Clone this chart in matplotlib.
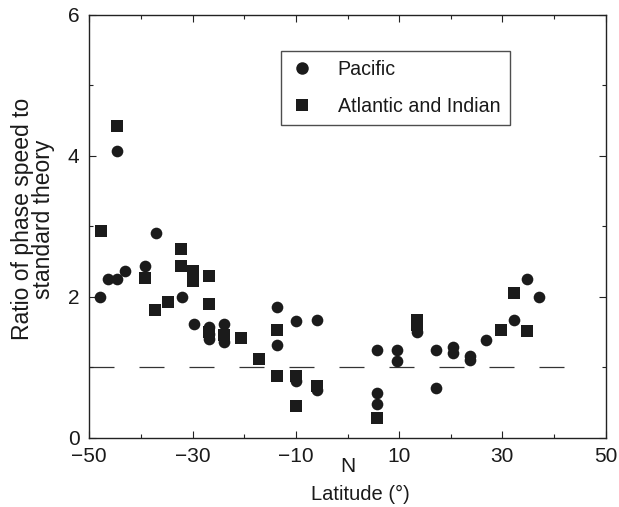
import matplotlib
matplotlib.use("Agg")
import matplotlib.pyplot as plt
from matplotlib.lines import Line2D
from matplotlib.ticker import FixedLocator
from matplotlib.transforms import blended_transform_factory

plt.rcParams["font.family"] = ["Liberation Sans", "DejaVu Sans"]
plt.rcParams["axes.unicode_minus"] = True
plt.rcParams["lines.scale_dashes"] = False

# Pacific observations: latitude (deg) and ratio of phase speed to standard theory
pacific_lat = [-47.9, -46.3, -44.7, -44.7, -43.0, -39.3, -37.1, -32.1, -29.7,
               -26.8, -26.8, -26.8, -23.9, -23.9, -13.65, -13.65, -9.9, -9.9,
               -6.0, -6.0, 5.65, 5.65, 5.65, 9.6, 9.6, 13.4, 17.1, 17.1,
               20.5, 20.5, 23.7, 23.7, 26.8, 32.2, 34.8, 37.1]
pacific_ratio = [1.99, 2.25, 2.25, 4.07, 2.37, 2.43, 2.91, 1.99, 1.61,
                 1.57, 1.47, 1.40, 1.61, 1.35, 1.85, 1.31, 1.66, 0.80,
                 1.67, 0.67, 1.24, 0.63, 0.48, 1.24, 1.09, 1.50, 1.24, 0.71,
                 1.28, 1.20, 1.16, 1.10, 1.38, 1.67, 2.25, 2.00]

# Atlantic and Indian observations
atl_lat = [-47.8, -44.7, -39.3, -37.3, -34.8, -32.2, -32.2, -29.9, -29.9,
           -26.9, -26.9, -26.8, -23.9, -20.6, -17.2, -13.65, -13.65, -9.9,
           -9.9, -6.0, 5.65, 13.4, 13.4, 29.7, 32.3, 34.8]
atl_ratio = [2.93, 4.43, 2.27, 1.81, 1.92, 2.68, 2.44, 2.36, 2.22,
             2.29, 1.90, 1.50, 1.46, 1.42, 1.12, 1.53, 0.87, 0.87,
             0.45, 0.73, 0.27, 1.67, 1.60, 1.53, 2.05, 1.51]

# Reference level of standard theory
theory_lat = [-50, 45]
theory_ratio = [1, 1]

x_major = [-50, -30, -10, 10, 30, 50]
x_minor = [-40, -20, 0, 20, 40]
y_major = [0, 2, 4, 6]
y_minor = [1, 3, 5]

ink = "#1b1b1b"

fig = plt.figure(figsize=(6.19, 5.07), dpi=100)
ax = fig.add_axes([89.3 / 619, (507 - 437.5) / 507, 516.4 / 619, 422.5 / 507])

ax.plot(theory_lat, theory_ratio, color="#333333", lw=0.9,
        dashes=(18, 18), zorder=1)
ax.plot(pacific_lat, pacific_ratio, "o", ms=8.4, color=ink, mew=0, zorder=3)
ax.plot(atl_lat, atl_ratio, "s", ms=8.2, color=ink, mew=0, zorder=3)

ax.set_xlim(-50, 50)
ax.set_ylim(0, 6)
ax.xaxis.set_major_locator(FixedLocator(x_major))
ax.xaxis.set_minor_locator(FixedLocator(x_minor))
ax.yaxis.set_major_locator(FixedLocator(y_major))
ax.yaxis.set_minor_locator(FixedLocator(y_minor))
ax.tick_params(which="both", direction="in", top=True, right=True,
               width=0.8, colors="#222222", labelsize=15, labelcolor="#1a1a1a")
ax.tick_params(which="major", length=5.2)
ax.tick_params(which="minor", length=3.2)
ax.tick_params(axis="x", which="major", pad=7)
ax.tick_params(axis="y", which="major", pad=7)
for sp in ax.spines.values():
    sp.set_linewidth(1.0)
    sp.set_color("#222222")

ax.set_xlabel("Latitude (°)", fontsize=14.5, color="#1a1a1a")
ax.xaxis.set_label_coords(0.524, -0.113)
ax.set_ylabel("Ratio of phase speed to\nstandard theory", fontsize=16.5,
              color="#1a1a1a", linespacing=0.92)
ax.yaxis.set_label_coords(-0.066, 0.517)

trans = blended_transform_factory(ax.transData, ax.transAxes)
ax.text(0, -0.069, "N", transform=trans, ha="center", va="center",
        fontsize=15, color="#1a1a1a")

handles = [
    Line2D([], [], marker="o", ls="none", ms=9, color=ink, mew=0),
    Line2D([], [], marker="s", ls="none", ms=8, color=ink, mew=0),
]
leg = ax.legend(handles, ["Pacific", "Atlantic and Indian"],
                loc="upper left", bbox_to_anchor=(0.371, 0.9155),
                fontsize=14.1, frameon=True, fancybox=False, edgecolor="#222222",
                borderpad=0.48, handlelength=1.2, handletextpad=1.22,
                labelspacing=0.9, borderaxespad=0)
leg.get_frame().set_linewidth(1.0)
for t in leg.get_texts():
    t.set_color("#1a1a1a")

fig.savefig("out.png", dpi=100)
